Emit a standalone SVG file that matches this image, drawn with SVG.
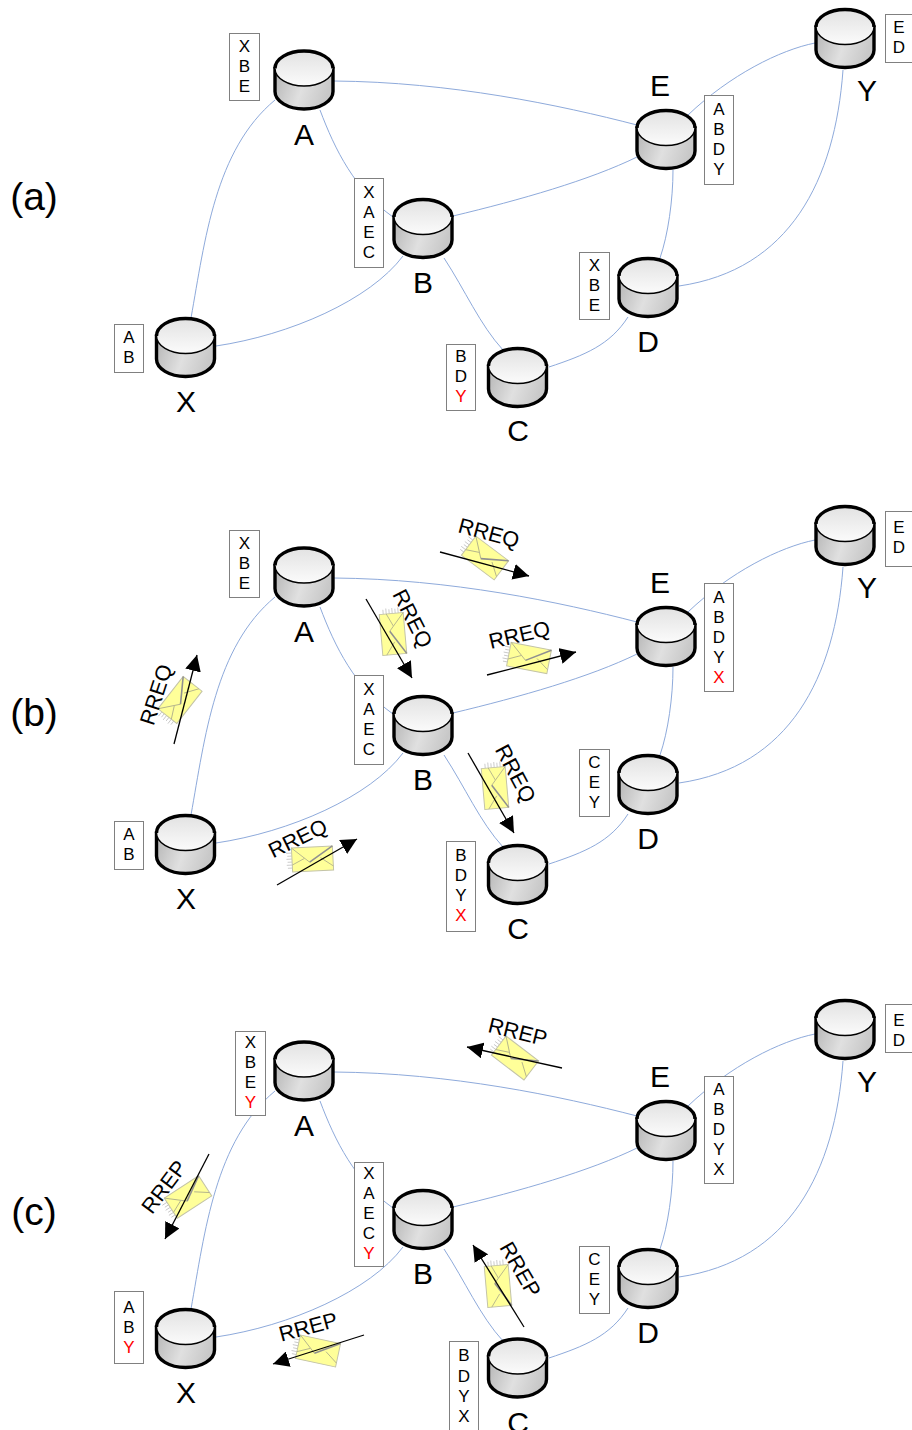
<svg xmlns="http://www.w3.org/2000/svg" width="912" height="1430" viewBox="0 0 912 1430">
<style>
text{font-family:"Liberation Sans",Arial,sans-serif;fill:#000;text-anchor:middle}
.lbl{font-size:30px}
.pan{font-size:39px}
.t{font-size:17px}
.m{font-size:21.5px}
.red{fill:#f00}
.box{fill:#fff;stroke:#808080;stroke-width:1}
.edge{fill:none;stroke:#8eaadb;stroke-width:1}
.arr{fill:none;stroke:#000;stroke-width:1.3;marker-end:url(#head)}
</style>
<defs>
<linearGradient id="gb" x1="0" y1="0" x2="1" y2="0.25"><stop offset="0" stop-color="#b4b4b4"/><stop offset="0.55" stop-color="#e0e0e0"/><stop offset="1" stop-color="#c8c8c8"/></linearGradient>
<linearGradient id="gt" x1="0" y1="0" x2="0" y2="1"><stop offset="0" stop-color="#e2e2e2"/><stop offset="1" stop-color="#fbfbfb"/></linearGradient>
<marker id="head" markerUnits="userSpaceOnUse" markerWidth="17" markerHeight="16" refX="16" refY="8" orient="auto"><path d="M0,0L16,8L0,16z" fill="#000"/></marker>
<g id="cyl">
<path d="M-29,17.5V40.5A29,17.5 0 0 0 29,40.5V17.5z" fill="url(#gb)" stroke="#000" stroke-width="3.4"/>
<ellipse cx="0" cy="17.5" rx="29" ry="17.5" fill="url(#gt)" stroke="none"/>
<path d="M-29,17.5A29,17.5 0 0 0 29,17.5" fill="none" stroke="#000" stroke-width="1.4"/>
<path d="M-29,17.5A29,17.5 0 0 1 29,17.5" fill="none" stroke="#000" stroke-width="3.4"/>
</g>
<g id="env">
<path d="M-26,-7H-20.5M-25,-4H-20.5M-26,-1H-20.5M-25,2H-20.5M-26,5H-20.5M-25,8H-20.5" stroke="#c0c0c0" stroke-width="0.8" fill="none"/>
<rect x="-20.5" y="-12" width="41" height="24" fill="#ffff99" stroke="#c4c4a8" stroke-width="1"/>
<path d="M-20.5,-12L-3,3M-20.5,5L-8,-1M20.5,8L8,-1" fill="none" stroke="#b4b48c" stroke-width="0.9"/>
<path d="M-3,3L20.5,-12" fill="none" stroke="#909090" stroke-width="1.6"/>
</g>
</defs>

<g id="connectors">
<g id="edges-a" transform="translate(0,0)">
<path class="edge" d="M191,318C205,240 215,150 275,100"/>
<path class="edge" d="M334,81C450,82 560,105 637,125"/>
<path class="edge" d="M320,110C335,150 355,190 393,217"/>
<path class="edge" d="M453,216C520,200 590,180 637,157"/>
<path class="edge" d="M403,256C370,300 290,335 216,346"/>
<path class="edge" d="M444,258C465,290 480,325 503,350"/>
<path class="edge" d="M688,115C730,75 780,50 815,43"/>
<path class="edge" d="M673,170C673,200 668,235 660,258"/>
<path class="edge" d="M679,286C790,270 835,180 843,70"/>
<path class="edge" d="M628,317C610,345 585,355 549,367"/>
</g>
<g id="edges-b" transform="translate(0,497)">
<path class="edge" d="M191,318C205,240 215,150 275,100"/>
<path class="edge" d="M334,81C450,82 560,105 637,125"/>
<path class="edge" d="M320,110C335,150 355,190 393,217"/>
<path class="edge" d="M453,216C520,200 590,180 637,157"/>
<path class="edge" d="M403,256C370,300 290,335 216,346"/>
<path class="edge" d="M444,258C465,290 480,325 503,350"/>
<path class="edge" d="M688,115C730,75 780,50 815,43"/>
<path class="edge" d="M673,170C673,200 668,235 660,258"/>
<path class="edge" d="M679,286C790,270 835,180 843,70"/>
<path class="edge" d="M628,317C610,345 585,355 549,367"/>
</g>
<g id="edges-c" transform="translate(0,991)">
<path class="edge" d="M191,318C205,240 215,150 275,100"/>
<path class="edge" d="M334,81C450,82 560,105 637,125"/>
<path class="edge" d="M320,110C335,150 355,190 393,217"/>
<path class="edge" d="M453,216C520,200 590,180 637,157"/>
<path class="edge" d="M403,256C370,300 290,335 216,346"/>
<path class="edge" d="M444,258C465,290 480,325 503,350"/>
<path class="edge" d="M688,115C730,75 780,50 815,43"/>
<path class="edge" d="M673,170C673,200 668,235 660,258"/>
<path class="edge" d="M679,286C790,270 835,180 843,70"/>
<path class="edge" d="M628,317C610,345 585,355 549,367"/>
</g>
</g>

<text class="pan" x="34" y="210">(a)</text>
<text class="pan" x="34" y="726">(b)</text>
<text class="pan" x="34" y="1225">(c)</text>

<!-- panel a -->
<g id="a-A"><use href="#cyl" x="304" y="51"/><text class="lbl" x="304" y="145">A</text><rect class="box" x="229.5" y="33.5" width="30" height="67"/><text class="t" x="244.5" y="52">X</text><text class="t" x="244.5" y="72">B</text><text class="t" x="244.5" y="92">E</text></g>
<g id="a-B"><use href="#cyl" x="423" y="199.5"/><text class="lbl" x="423" y="293">B</text><rect class="box" x="354.5" y="178.5" width="29" height="89"/><text class="t" x="369" y="198">X</text><text class="t" x="369" y="218">A</text><text class="t" x="369" y="238">E</text><text class="t" x="369" y="258">C</text></g>
<g id="a-C"><use href="#cyl" x="517.5" y="348.5"/><text class="lbl" x="518" y="441">C</text><rect class="box" x="446.5" y="344.5" width="29" height="66"/><text class="t" x="461" y="362">B</text><text class="t" x="461" y="382">D</text><text class="t red" x="461" y="402">Y</text></g>
<g id="a-D"><use href="#cyl" x="648" y="258.5"/><text class="lbl" x="648" y="352">D</text><rect class="box" x="579.5" y="252.5" width="30" height="67"/><text class="t" x="594.5" y="271">X</text><text class="t" x="594.5" y="291">B</text><text class="t" x="594.5" y="311">E</text></g>
<g id="a-E"><use href="#cyl" x="666" y="110.5"/><text class="lbl" x="660" y="96">E</text><rect class="box" x="704.5" y="95.5" width="29" height="89"/><text class="t" x="719" y="115">A</text><text class="t" x="719" y="135">B</text><text class="t" x="719" y="155">D</text><text class="t" x="719" y="175">Y</text></g>
<g id="a-X"><use href="#cyl" x="185.5" y="318.5"/><text class="lbl" x="186" y="412">X</text><rect class="box" x="114.5" y="324.5" width="29" height="48"/><text class="t" x="129" y="343">A</text><text class="t" x="129" y="363">B</text></g>
<g id="a-Y"><use href="#cyl" x="845" y="9.5"/><text class="lbl" x="867" y="101">Y</text><rect class="box" x="885.5" y="14.5" width="30" height="48"/><text class="t" x="899" y="33">E</text><text class="t" x="899" y="53">D</text></g>

<!-- panel b -->
<g id="b-A"><use href="#cyl" x="304" y="548"/><text class="lbl" x="304" y="642">A</text><rect class="box" x="229.5" y="530.5" width="30" height="67"/><text class="t" x="244.5" y="549">X</text><text class="t" x="244.5" y="569">B</text><text class="t" x="244.5" y="589">E</text></g>
<g id="b-B"><use href="#cyl" x="423" y="696.5"/><text class="lbl" x="423" y="790">B</text><rect class="box" x="354.5" y="675.5" width="29" height="89"/><text class="t" x="369" y="695">X</text><text class="t" x="369" y="715">A</text><text class="t" x="369" y="735">E</text><text class="t" x="369" y="755">C</text></g>
<g id="b-C"><use href="#cyl" x="517.5" y="845.5"/><text class="lbl" x="518" y="939">C</text><rect class="box" x="446.5" y="841.5" width="29" height="90"/><text class="t" x="461" y="861">B</text><text class="t" x="461" y="881">D</text><text class="t" x="461" y="901">Y</text><text class="t red" x="461" y="921">X</text></g>
<g id="b-D"><use href="#cyl" x="648" y="755.5"/><text class="lbl" x="648" y="849">D</text><rect class="box" x="579.5" y="749.5" width="30" height="67"/><text class="t" x="594.5" y="768">C</text><text class="t" x="594.5" y="788">E</text><text class="t" x="594.5" y="808">Y</text></g>
<g id="b-E"><use href="#cyl" x="666" y="607.5"/><text class="lbl" x="660" y="593">E</text><rect class="box" x="704.5" y="583.5" width="29" height="108"/><text class="t" x="719" y="603">A</text><text class="t" x="719" y="623">B</text><text class="t" x="719" y="643">D</text><text class="t" x="719" y="663">Y</text><text class="t red" x="719" y="683">X</text></g>
<g id="b-X"><use href="#cyl" x="185.5" y="815.5"/><text class="lbl" x="186" y="909">X</text><rect class="box" x="114.5" y="821.5" width="29" height="48"/><text class="t" x="129" y="840">A</text><text class="t" x="129" y="860">B</text></g>
<g id="b-Y"><use href="#cyl" x="845" y="506.5"/><text class="lbl" x="867" y="598">Y</text><rect class="box" x="885.5" y="511.5" width="30" height="55"/><text class="t" x="899" y="533">E</text><text class="t" x="899" y="553">D</text></g>

<!-- panel c -->
<g id="c-A"><use href="#cyl" x="304" y="1042"/><text class="lbl" x="304" y="1136">A</text><rect class="box" x="235.5" y="1031.5" width="30" height="84"/><text class="t" x="250.5" y="1048">X</text><text class="t" x="250.5" y="1068">B</text><text class="t" x="250.5" y="1088">E</text><text class="t red" x="250.5" y="1108">Y</text></g>
<g id="c-B"><use href="#cyl" x="423" y="1190.5"/><text class="lbl" x="423" y="1284">B</text><rect class="box" x="354.5" y="1162.5" width="29" height="104"/><text class="t" x="369" y="1179">X</text><text class="t" x="369" y="1199">A</text><text class="t" x="369" y="1219">E</text><text class="t" x="369" y="1239">C</text><text class="t red" x="369" y="1259">Y</text></g>
<g id="c-C"><use href="#cyl" x="517.5" y="1339"/><text class="lbl" x="518" y="1433">C</text><rect class="box" x="449.5" y="1341.5" width="29" height="92"/><text class="t" x="464" y="1361">B</text><text class="t" x="464" y="1382">D</text><text class="t" x="464" y="1402">Y</text><text class="t" x="464" y="1422">X</text></g>
<g id="c-D"><use href="#cyl" x="648" y="1249.5"/><text class="lbl" x="648" y="1343">D</text><rect class="box" x="579.5" y="1246.5" width="30" height="67"/><text class="t" x="594.5" y="1265">C</text><text class="t" x="594.5" y="1285">E</text><text class="t" x="594.5" y="1305">Y</text></g>
<g id="c-E"><use href="#cyl" x="666" y="1101.5"/><text class="lbl" x="660" y="1087">E</text><rect class="box" x="704.5" y="1076.5" width="29" height="107"/><text class="t" x="719" y="1095">A</text><text class="t" x="719" y="1115">B</text><text class="t" x="719" y="1135">D</text><text class="t" x="719" y="1155">Y</text><text class="t" x="719" y="1175">X</text></g>
<g id="c-X"><use href="#cyl" x="185.5" y="1309.5"/><text class="lbl" x="186" y="1403">X</text><rect class="box" x="114.5" y="1291.5" width="29" height="72"/><text class="t" x="129" y="1313">A</text><text class="t" x="129" y="1333">B</text><text class="t red" x="129" y="1353">Y</text></g>
<g id="c-Y"><use href="#cyl" x="845" y="1000.5"/><text class="lbl" x="867" y="1092">Y</text><rect class="box" x="885.5" y="1004.5" width="30" height="48"/><text class="t" x="899" y="1026">E</text><text class="t" x="899" y="1046">D</text></g>

<!-- messages -->
<g id="msg-b1"><use href="#env" transform="translate(485,558) rotate(37)"/><text class="m" transform="translate(487,540) rotate(15)">RREQ</text><line class="arr" x1="440" y1="552" x2="529" y2="576"/></g>
<g id="msg-b2"><use href="#env" transform="translate(393,634) rotate(85)"/><text class="m" transform="translate(406,622) rotate(63)">RREQ</text><line class="arr" x1="366" y1="599" x2="412" y2="678"/></g>
<g id="msg-b3"><use href="#env" transform="translate(529,658) rotate(11)"/><text class="m" transform="translate(521,642) rotate(-13)">RREQ</text><line class="arr" x1="487" y1="675" x2="576" y2="652"/></g>
<g id="msg-b4"><use href="#env" transform="translate(180,700) rotate(-52)"/><text class="m" transform="translate(163,697) rotate(-72)">RREQ</text><line class="arr" x1="174" y1="744" x2="197" y2="655"/></g>
<g id="msg-b5"><use href="#env" transform="translate(312.5,859) rotate(-3)"/><text class="m" transform="translate(301,845) rotate(-26)">RREQ</text><line class="arr" x1="277" y1="885" x2="357" y2="839"/></g>
<g id="msg-b6"><use href="#env" transform="translate(495,788) rotate(85)"/><text class="m" transform="translate(509,777) rotate(62)">RREQ</text><line class="arr" x1="468" y1="753" x2="514" y2="833"/></g>
<g id="msg-c1"><use href="#env" transform="translate(515,1058) rotate(37.5)"/><text class="m" transform="translate(516,1039) rotate(14)">RREP</text><line class="arr" x1="562" y1="1068" x2="467" y2="1047"/></g>
<g id="msg-c2"><use href="#env" transform="translate(188,1197) rotate(-33)"/><text class="m" transform="translate(170,1191.5) rotate(-53)">RREP</text><line class="arr" x1="209" y1="1154" x2="165" y2="1239"/></g>
<g id="msg-c3"><use href="#env" transform="translate(318,1351) rotate(12)"/><text class="m" transform="translate(310,1334) rotate(-15)">RREP</text><line class="arr" x1="364" y1="1335" x2="273" y2="1364"/></g>
<g id="msg-c4"><use href="#env" transform="translate(498,1286) rotate(85)"/><text class="m" transform="translate(514,1273) rotate(60)">RREP</text><line class="arr" x1="524" y1="1327" x2="473" y2="1245"/></g>
</svg>
